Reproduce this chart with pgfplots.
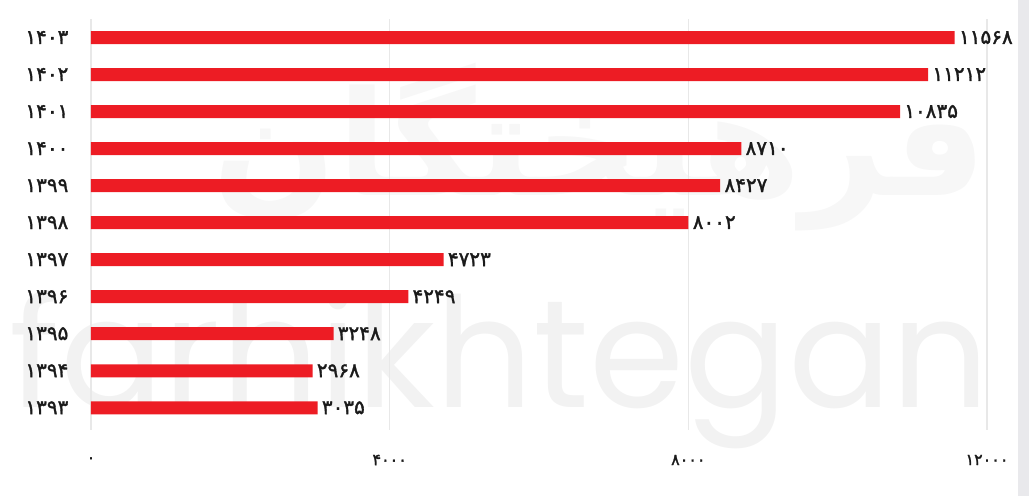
\documentclass[border=0pt]{standalone}
\usepackage{pgfplots}
\pgfplotsset{compat=1.18}
\usepackage{pgfplotstable}
\usepackage{graphicx}
\usepackage{fontspec}
\setmainfont{DejaVu Sans}
\newfontfamily\fa[Script=Arabic]{DejaVu Sans}
\newfontfamily\famed[Script=Arabic,FakeBold=1.6]{DejaVu Sans}
\newfontfamily\wm{Poppins}
\TeXXeTstate=1
\definecolor{barred}{HTML}{ED1C24}
\definecolor{txt}{HTML}{1A1A1A}
\definecolor{gridc}{HTML}{E8E8E8}
\definecolor{strip}{HTML}{E9E9EC}
\pgfplotstableread{
y x lab
0 3035 ۳۰۳۵
1 2968 ۲۹۶۸
2 3248 ۳۲۴۸
3 4249 ۴۲۴۹
4 4723 ۴۷۲۳
5 8002 ۸۰۰۲
6 8427 ۸۴۲۷
7 8710 ۸۷۱۰
8 10835 ۱۰۸۳۵
9 11212 ۱۱۲۱۲
10 11568 ۱۱۵۶۸
}\data
\begin{document}
\begin{tikzpicture}
\path[use as bounding box] (0pt,0pt) rectangle (771.75pt,372pt);
\fill[strip] (763.5pt,0pt) rectangle (771.75pt,372pt);
\node[black!5] at (375pt,94.5pt) {\resizebox{735pt}{!}{\wm farhikhtegan}};
\node[black!3] at (450pt,262pt) {\resizebox{580pt}{!}{\fa\bfseries\beginR فرهیختگان\endR}};
\begin{axis}[
  at={(68.25pt,49.5pt)}, anchor=south west,
  scale only axis, width=672pt, height=308.25pt,
  xmin=0, xmax=12000, ymin=-0.6, ymax=10.5,
  axis line style={draw=none},
  tick style={draw=none},
  xtick={0,4000,8000,12000},
  xticklabels={۰,۴۰۰۰,۸۰۰۰,۱۲۰۰۰},
  scaled x ticks=false,
  xmajorgrids,
  grid style={gridc, line width=0.8pt},
  ytick={0,...,10},
  yticklabels={۱۳۹۳,۱۳۹۴,۱۳۹۵,۱۳۹۶,۱۳۹۷,۱۳۹۸,۱۳۹۹,۱۴۰۰,۱۴۰۱,۱۴۰۲,۱۴۰۳},
  xticklabel style={font=\famed\fontsize{12}{12}\selectfont, text=txt, anchor=center, inner sep=0pt, yshift=-22.5pt},
  yticklabel style={font=\famed\fontsize{15}{15}\selectfont, text=txt, anchor=east, inner sep=0pt, xshift=-12.5pt},
  xbar, bar width=9.75pt, bar shift=0pt,
  nodes near coords,
  point meta=explicit symbolic,
  nodes near coords style={font=\famed\fontsize{15}{15}\selectfont, text=txt, anchor=west, inner sep=0pt, xshift=3pt},
]
\addplot[fill=barred, draw=none] table[x=x, y=y, meta=lab] {\data};
\end{axis}
\end{tikzpicture}
\end{document}
